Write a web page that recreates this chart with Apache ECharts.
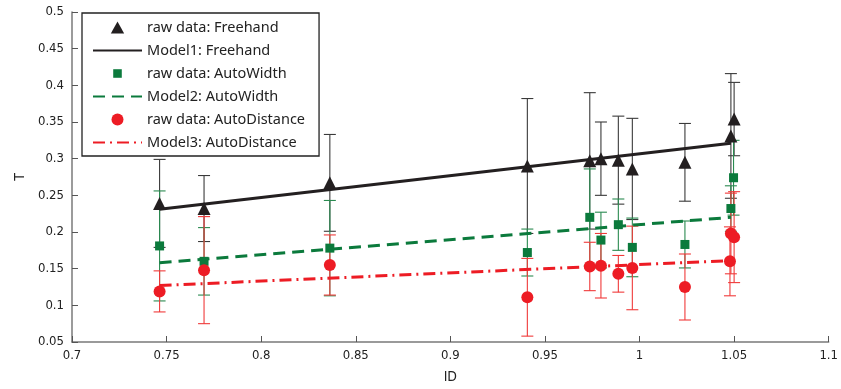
<!DOCTYPE html>
<html>
<head>
<meta charset="utf-8">
<script src="https://cdn.jsdelivr.net/npm/echarts@6/dist/echarts.min.js"></script>
<style>
  html, body { margin: 0; padding: 0; background: #fff; }
  #chart { width: 841px; height: 389px; }
</style>
</head>
<body>
<div id="chart"></div>
<script>
// raw data
var idFree = [0.7463, 0.7698, 0.8363, 0.9407, 0.9737, 0.9796, 0.9888, 0.9962, 1.024, 1.0483, 1.050];
var tFree = [0.239, 0.232, 0.267, 0.290, 0.297, 0.300, 0.298, 0.286, 0.295, 0.331, 0.354];
var errFree = [0.060, 0.045, 0.066, 0.092, 0.093, 0.050, 0.060, 0.069, 0.053, 0.085, 0.050];

var idWidth = [0.7463, 0.7698, 0.8363, 0.9407, 0.9737, 0.9796, 0.9888, 0.9962, 1.024, 1.0483, 1.0497];
var tWidth = [0.181, 0.160, 0.178, 0.172, 0.220, 0.189, 0.210, 0.179, 0.183, 0.232, 0.274];
var errWidth = [0.075, 0.046, 0.065, 0.032, 0.066, 0.038, 0.035, 0.040, 0.032, 0.031, 0.051];

var idDist = [0.7463, 0.7698, 0.8363, 0.9407, 0.9737, 0.9796, 0.9888, 0.9962, 1.024, 1.0478, 1.0483, 1.050];
var tDist = [0.119, 0.148, 0.155, 0.111, 0.153, 0.154, 0.143, 0.151, 0.125, 0.160, 0.198, 0.193];
var errDist = [0.028, 0.073, 0.041, 0.053, 0.033, 0.044, 0.025, 0.057, 0.045, 0.047, 0.055, 0.062];

// fitted models (end points)
var modelX = [0.7463, 1.0483];
var model1 = [0.231, 0.321];
var model2 = [0.158, 0.220];
var model3 = [0.127, 0.161];

var BLACK = '#231f20', GREEN = '#0b7a3c', RED = '#ed1c24';
var FONT = '"DejaVu Sans Condensed", "Noto Sans", sans-serif';
// legend icons, padded so they keep their size in the 12px slot
var TRI = 'path://M5,0L10,9L0,9Z';
var SQ = 'path://M-2,-2L-2,-2M12,12L12,12M0,0H10V10H0Z';

function pts(xs, ys) {
    return xs.map(function (x, i) { return [x, ys[i]]; });
}
function bars(xs, ys, es) {
    return xs.map(function (x, i) { return [x, ys[i] - es[i], ys[i] + es[i]]; });
}

// vertical error bar with caps
function errorSeries(data, color) {
    return {
        type: 'custom',
        data: data,
        silent: true,
        z: 2,
        renderItem: function (params, api) {
            var lo = api.coord([api.value(0), api.value(1)]);
            var hi = api.coord([api.value(0), api.value(2)]);
            var w = 6;
            var st = { stroke: color, lineWidth: 1.1 };
            return {
                type: 'group',
                children: [
                    { type: 'line', shape: { x1: lo[0], y1: lo[1], x2: hi[0], y2: hi[1] }, style: st },
                    { type: 'line', shape: { x1: lo[0] - w, y1: lo[1], x2: lo[0] + w, y2: lo[1] }, style: st },
                    { type: 'line', shape: { x1: hi[0] - w, y1: hi[1], x2: hi[0] + w, y2: hi[1] }, style: st }
                ]
            };
        }
    };
}

var chart = echarts.init(document.getElementById('chart'));
chart.setOption({
    backgroundColor: '#fff',
    animation: false,
    grid: { left: 72, right: 9, top: 12, bottom: 45 },
    legend: {
        orient: 'vertical',
        left: 82, top: 13,
        padding: [7, 14, 6, 10],
        borderColor: '#222', borderWidth: 1.3,
        itemWidth: 49, itemHeight: 12, itemGap: 8,
        symbolKeepAspect: true,
        textStyle: { fontFamily: '"Noto Sans", sans-serif', fontSize: 14.5, color: '#222', lineHeight: 14 },
        data: [
            { name: 'raw data: Freehand', icon: TRI },
            { name: 'Model1: Freehand', itemStyle: { opacity: 0 } },
            { name: 'raw data: AutoWidth', icon: SQ },
            { name: 'Model2: AutoWidth', itemStyle: { opacity: 0 } },
            { name: 'raw data: AutoDistance', icon: 'circle' },
            { name: 'Model3: AutoDistance', itemStyle: { opacity: 0 } }
        ]
    },
    xAxis: {
        type: 'value', min: 0.7, max: 1.1, interval: 0.05,
        name: 'ID', nameLocation: 'middle', nameGap: 28,
        nameTextStyle: { fontFamily: FONT, fontSize: 14, color: '#222' },
        axisLine: { lineStyle: { color: '#7a7a7a', width: 1.5 } },
        axisTick: { inside: true, length: 6, lineStyle: { color: '#555' } },
        axisLabel: { fontFamily: FONT, fontSize: 13, color: '#222', margin: 7,
            formatter: function (v) { return +v.toFixed(2) + ''; } },
        splitLine: { show: false }
    },
    yAxis: {
        type: 'value', min: 0.05, max: 0.5, interval: 0.05,
        name: 'T', nameLocation: 'middle', nameGap: 44,
        nameTextStyle: { fontFamily: FONT, fontSize: 14, color: '#222' },
        axisLine: { show: true, lineStyle: { color: '#7a7a7a', width: 1.5 } },
        axisTick: { show: true, inside: true, length: 6, lineStyle: { color: '#555' } },
        axisLabel: { fontFamily: FONT, fontSize: 13, color: '#222', margin: 8,
            formatter: function (v) { return +v.toFixed(2) + ''; } },
        splitLine: { show: false }
    },
    series: [
        errorSeries(bars(idFree, tFree, errFree), '#3a3a3a'),
        {
            name: 'raw data: Freehand', type: 'scatter', z: 4,
            symbol: 'triangle', symbolSize: 13,
            itemStyle: { color: BLACK, opacity: 1 },
            data: pts(idFree, tFree)
        },
        {
            name: 'Model1: Freehand', type: 'line', z: 3, symbol: 'none',
            lineStyle: { color: BLACK, width: 3 }, itemStyle: { color: BLACK },
            data: pts(modelX, model1)
        },
        errorSeries(bars(idWidth, tWidth, errWidth), '#2a8a50'),
        {
            name: 'raw data: AutoWidth', type: 'scatter', z: 4,
            symbol: 'rect', symbolSize: 9,
            itemStyle: { color: GREEN, opacity: 1 },
            data: pts(idWidth, tWidth)
        },
        {
            name: 'Model2: AutoWidth', type: 'line', z: 3, symbol: 'none',
            lineStyle: { color: GREEN, width: 3, type: [12, 7] }, itemStyle: { color: GREEN },
            data: pts(modelX, model2)
        },
        errorSeries(bars(idDist, tDist, errDist), '#f03a3a'),
        {
            name: 'raw data: AutoDistance', type: 'scatter', z: 5,
            symbol: 'circle', symbolSize: 12,
            itemStyle: { color: RED, opacity: 1 },
            data: pts(idDist, tDist)
        },
        {
            name: 'Model3: AutoDistance', type: 'line', z: 3, symbol: 'none',
            lineStyle: { color: RED, width: 3, type: [12, 5, 2, 5] }, itemStyle: { color: RED },
            data: pts(modelX, model3)
        }
    ]
});
</script>
</body>
</html>
